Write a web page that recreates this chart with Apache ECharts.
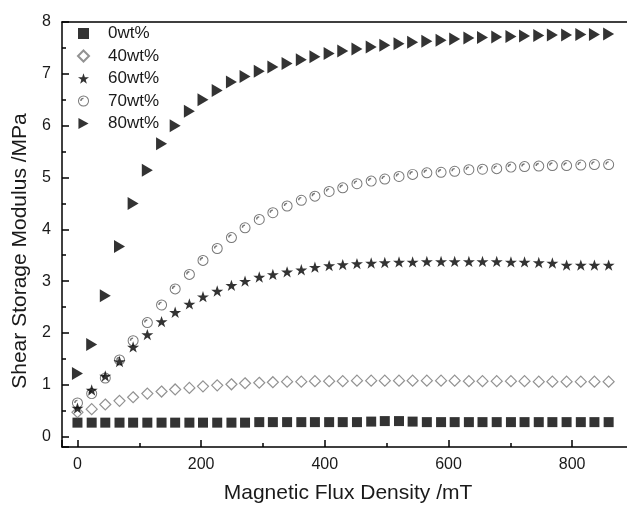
<!DOCTYPE html>
<html><head><meta charset="utf-8">
<script src="https://cdn.jsdelivr.net/npm/echarts@6/dist/echarts.min.js"></script>
<style>html,body{margin:0;padding:0;background:#fff}#c{width:627px;height:507px}</style>
</head><body><div id="c"></div>
<script>
// Magnetic flux density (mT)
const fluxDensity = [0, 23, 45, 68, 90, 113, 136, 158, 181, 203, 226, 249, 271, 294, 316, 339, 362, 384, 407, 429, 452, 475, 497, 520, 542, 565, 588, 610, 633, 655, 678, 701, 723, 746, 768, 791, 814, 836, 859];
// Shear storage modulus (MPa)
const wt0 = [0.27, 0.27, 0.27, 0.27, 0.27, 0.27, 0.27, 0.27, 0.27, 0.27, 0.27, 0.27, 0.27, 0.28, 0.28, 0.28, 0.28, 0.28, 0.28, 0.28, 0.28, 0.29, 0.30, 0.30, 0.29, 0.28, 0.28, 0.28, 0.28, 0.28, 0.28, 0.28, 0.28, 0.28, 0.28, 0.28, 0.28, 0.28, 0.28];
const wt40 = [0.47, 0.53, 0.62, 0.69, 0.76, 0.83, 0.87, 0.91, 0.94, 0.97, 0.99, 1.01, 1.03, 1.04, 1.05, 1.06, 1.06, 1.07, 1.07, 1.07, 1.08, 1.08, 1.08, 1.08, 1.08, 1.08, 1.08, 1.08, 1.07, 1.07, 1.07, 1.07, 1.07, 1.06, 1.06, 1.06, 1.06, 1.06, 1.06];
const wt60 = [0.55, 0.90, 1.17, 1.45, 1.73, 1.97, 2.22, 2.40, 2.56, 2.70, 2.81, 2.92, 3.00, 3.08, 3.13, 3.18, 3.22, 3.27, 3.30, 3.32, 3.34, 3.35, 3.36, 3.37, 3.37, 3.38, 3.38, 3.38, 3.38, 3.38, 3.38, 3.37, 3.37, 3.36, 3.35, 3.31, 3.31, 3.31, 3.31];
const wt70 = [0.65, 0.83, 1.13, 1.48, 1.85, 2.20, 2.54, 2.85, 3.13, 3.40, 3.63, 3.84, 4.03, 4.19, 4.32, 4.45, 4.56, 4.64, 4.73, 4.80, 4.88, 4.93, 4.97, 5.02, 5.06, 5.09, 5.10, 5.12, 5.15, 5.16, 5.17, 5.20, 5.21, 5.22, 5.23, 5.23, 5.24, 5.25, 5.25];
const wt80 = [1.22, 1.78, 2.72, 3.67, 4.50, 5.14, 5.65, 6.00, 6.28, 6.50, 6.68, 6.84, 6.95, 7.05, 7.13, 7.20, 7.27, 7.33, 7.39, 7.44, 7.48, 7.52, 7.55, 7.58, 7.61, 7.63, 7.65, 7.67, 7.69, 7.70, 7.71, 7.72, 7.73, 7.74, 7.75, 7.75, 7.76, 7.76, 7.77];
const seriesNames = ['0wt%', '40wt%', '60wt%', '70wt%', '80wt%'];

const FONT = "'Liberation Sans', Arial, sans-serif";
const starPath = 'path://M50,0 L61.8,35.1 L98.1,35.1 L68.8,56.7 L79.4,90.5 L50,69.1 L20.6,90.5 L31.2,56.7 L1.9,35.1 L38.2,35.1 Z';
const triPath = 'path://M0,0 L11,6 L0,12 Z';
// ring with a small dark crescent inside (upper-left), as in the original marker
const ballPath = 'path://M10,0 A10,10 0 1,1 9.99,0 Z M10,1.8 A8.2,8.2 0 1,0 10.01,1.8 Z M4,10 A6,6 0 0,1 10,4 L10,6.5 A3.5,3.5 0 0,0 6.5,10 Z';
const pts = v => fluxDensity.map((x, i) => [x, v[i]]);

const chart = echarts.init(document.getElementById('c'), null, {renderer: 'canvas'});
const axisLineStyle = {color: '#000', width: 1.5};
chart.setOption({
  animation: false,
  backgroundColor: '#fff',
  textStyle: {fontFamily: FONT},
  grid: {left: 62, width: 572, top: 22, height: 425, outerBoundsMode: 'none', containLabel: false, show: false},
  legend: {
    orient: 'vertical', left: 72, top: 20, itemWidth: 11, itemHeight: 11, itemGap: 5.5,
    textStyle: {fontSize: 17, color: '#1a1a1a', fontFamily: FONT, padding: [0, 0, 0, 14]},
    data: [
      {name: seriesNames[0], icon: 'rect'},
      {name: seriesNames[1], icon: 'diamond'},
      {name: seriesNames[2], icon: starPath},
      {name: seriesNames[3], icon: ballPath},
      {name: seriesNames[4], icon: triPath}
    ]
  },
  xAxis: [{
    type: 'value', min: -25, max: 900, splitNumber: 5, position: 'bottom',
    axisLine: {onZero: false, lineStyle: axisLineStyle},
    axisTick: {inside: true, length: 7, lineStyle: axisLineStyle},
    axisLabel: {fontSize: 16, color: '#1a1a1a', margin: 10, fontFamily: FONT,
      formatter: v => (Math.abs(v % 200) < 1e-9 ? String(v) : '')},
    splitLine: {show: false},
    name: 'Magnetic Flux Density /mT', nameLocation: 'middle', nameGap: 36,
    nameTextStyle: {fontSize: 21, color: '#1a1a1a', fontFamily: FONT}
  }, {
    type: 'value', min: -25, max: 900, splitNumber: 10, position: 'bottom',
    axisLine: {show: false, onZero: false},
    axisTick: {inside: true, length: 4, lineStyle: axisLineStyle},
    axisLabel: {show: false}, splitLine: {show: false}
  }, {
    type: 'value', min: -25, max: 900, position: 'top',
    axisLine: {show: true, onZero: false, lineStyle: axisLineStyle},
    axisTick: {show: false}, axisLabel: {show: false}, splitLine: {show: false}
  }],
  yAxis: [{
    type: 'value', min: -0.2, max: 8, splitNumber: 8, position: 'left',
    axisLine: {show: true, onZero: false, lineStyle: axisLineStyle},
    axisTick: {show: true, inside: true, length: 7, lineStyle: axisLineStyle},
    axisLabel: {fontSize: 16, color: '#1a1a1a', margin: 11, fontFamily: FONT,
      formatter: v => (Math.abs(v - Math.round(v)) < 1e-9 ? String(Math.round(v)) : '')},
    splitLine: {show: false},
    name: 'Shear Storage Modulus /MPa', nameLocation: 'middle', nameGap: 26,
    nameTextStyle: {fontSize: 21, color: '#1a1a1a', fontFamily: FONT, padding: [0, 33, 0, 0]}
  }, {
    type: 'value', min: -0.2, max: 8, splitNumber: 16, position: 'left',
    axisLine: {show: false, onZero: false},
    axisTick: {show: true, inside: true, length: 4, lineStyle: axisLineStyle},
    axisLabel: {show: false}, splitLine: {show: false}
  }],
  series: [
    {name: seriesNames[0], type: 'scatter', data: pts(wt0), symbol: 'rect', symbolSize: 10,
      itemStyle: {color: '#000'}},
    {name: seriesNames[1], type: 'scatter', data: pts(wt40), symbol: 'diamond', symbolSize: [11, 11],
      itemStyle: {color: '#fff', borderColor: '#777', borderWidth: 1.2}},
    {name: seriesNames[3], type: 'scatter', data: pts(wt70), symbol: ballPath, symbolSize: 11, symbolKeepAspect: true,
      itemStyle: {color: '#555'}},
    {name: seriesNames[2], type: 'scatter', data: pts(wt60), symbol: starPath, symbolSize: 12, symbolKeepAspect: true,
      itemStyle: {color: '#000'}},
    {name: seriesNames[4], type: 'scatter', data: pts(wt80), symbol: triPath, symbolSize: [12, 13], symbolKeepAspect: true,
      itemStyle: {color: '#000'}}
  ]
});
</script>
</body></html>
